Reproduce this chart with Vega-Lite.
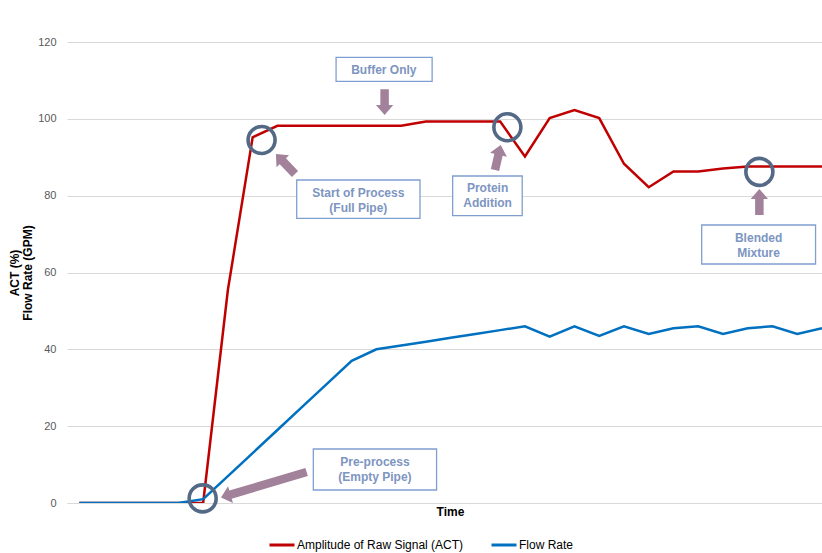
{
  "$schema": "https://vega.github.io/schema/vega-lite/v6.json",
  "width": 755,
  "height": 461,
  "autosize": {"type": "none"},
  "padding": {"left": 67, "top": 42, "right": 0, "bottom": 50},
  "background": "white",
  "config": {"view": {"stroke": null}, "font": "Liberation Sans"},
  "datasets": {
    "series": [
      {"t": 0, "s": "Amplitude of Raw Signal (ACT)", "v": 0},
      {"t": 1, "s": "Amplitude of Raw Signal (ACT)", "v": 0},
      {"t": 2, "s": "Amplitude of Raw Signal (ACT)", "v": 0},
      {"t": 3, "s": "Amplitude of Raw Signal (ACT)", "v": 0},
      {"t": 4, "s": "Amplitude of Raw Signal (ACT)", "v": 0},
      {"t": 5, "s": "Amplitude of Raw Signal (ACT)", "v": 0},
      {"t": 6, "s": "Amplitude of Raw Signal (ACT)", "v": 55.5},
      {"t": 7, "s": "Amplitude of Raw Signal (ACT)", "v": 95.2},
      {"t": 8, "s": "Amplitude of Raw Signal (ACT)", "v": 98.2},
      {"t": 9, "s": "Amplitude of Raw Signal (ACT)", "v": 98.2},
      {"t": 10, "s": "Amplitude of Raw Signal (ACT)", "v": 98.2},
      {"t": 11, "s": "Amplitude of Raw Signal (ACT)", "v": 98.2},
      {"t": 12, "s": "Amplitude of Raw Signal (ACT)", "v": 98.2},
      {"t": 13, "s": "Amplitude of Raw Signal (ACT)", "v": 98.2},
      {"t": 14, "s": "Amplitude of Raw Signal (ACT)", "v": 99.3},
      {"t": 15, "s": "Amplitude of Raw Signal (ACT)", "v": 99.3},
      {"t": 16, "s": "Amplitude of Raw Signal (ACT)", "v": 99.3},
      {"t": 17, "s": "Amplitude of Raw Signal (ACT)", "v": 99.3},
      {"t": 18, "s": "Amplitude of Raw Signal (ACT)", "v": 90.2},
      {"t": 19, "s": "Amplitude of Raw Signal (ACT)", "v": 100.2},
      {"t": 20, "s": "Amplitude of Raw Signal (ACT)", "v": 102.3},
      {"t": 21, "s": "Amplitude of Raw Signal (ACT)", "v": 100.2},
      {"t": 22, "s": "Amplitude of Raw Signal (ACT)", "v": 88.3},
      {"t": 23, "s": "Amplitude of Raw Signal (ACT)", "v": 82.2},
      {"t": 24, "s": "Amplitude of Raw Signal (ACT)", "v": 86.3},
      {"t": 25, "s": "Amplitude of Raw Signal (ACT)", "v": 86.3},
      {"t": 26, "s": "Amplitude of Raw Signal (ACT)", "v": 87.1},
      {"t": 27, "s": "Amplitude of Raw Signal (ACT)", "v": 87.6},
      {"t": 28, "s": "Amplitude of Raw Signal (ACT)", "v": 87.6},
      {"t": 29, "s": "Amplitude of Raw Signal (ACT)", "v": 87.6},
      {"t": 30, "s": "Amplitude of Raw Signal (ACT)", "v": 87.6},
      {"t": 0, "s": "Flow Rate", "v": 0},
      {"t": 1, "s": "Flow Rate", "v": 0},
      {"t": 2, "s": "Flow Rate", "v": 0},
      {"t": 3, "s": "Flow Rate", "v": 0},
      {"t": 4, "s": "Flow Rate", "v": 0},
      {"t": 5, "s": "Flow Rate", "v": 1},
      {"t": 6, "s": "Flow Rate", "v": 7},
      {"t": 7, "s": "Flow Rate", "v": 13},
      {"t": 8, "s": "Flow Rate", "v": 19},
      {"t": 9, "s": "Flow Rate", "v": 25},
      {"t": 10, "s": "Flow Rate", "v": 31},
      {"t": 11, "s": "Flow Rate", "v": 37},
      {"t": 12, "s": "Flow Rate", "v": 40},
      {"t": 13, "s": "Flow Rate", "v": 41},
      {"t": 14, "s": "Flow Rate", "v": 42},
      {"t": 15, "s": "Flow Rate", "v": 43},
      {"t": 16, "s": "Flow Rate", "v": 44},
      {"t": 17, "s": "Flow Rate", "v": 45},
      {"t": 18, "s": "Flow Rate", "v": 46},
      {"t": 19, "s": "Flow Rate", "v": 43.3},
      {"t": 20, "s": "Flow Rate", "v": 46},
      {"t": 21, "s": "Flow Rate", "v": 43.5},
      {"t": 22, "s": "Flow Rate", "v": 46},
      {"t": 23, "s": "Flow Rate", "v": 44},
      {"t": 24, "s": "Flow Rate", "v": 45.5},
      {"t": 25, "s": "Flow Rate", "v": 46},
      {"t": 26, "s": "Flow Rate", "v": 44},
      {"t": 27, "s": "Flow Rate", "v": 45.5},
      {"t": 28, "s": "Flow Rate", "v": 46},
      {"t": 29, "s": "Flow Rate", "v": 44},
      {"t": 30, "s": "Flow Rate", "v": 45.5}
    ],
    "circles": [
      {"name": "pre", "t": 4.98, "v": 1.2},
      {"name": "start", "t": 7.36, "v": 94.5},
      {"name": "protein", "t": 17.29, "v": 97.8},
      {"name": "blend", "t": 27.47, "v": 86.2}
    ],
    "arrows": [
      {"name": "buffer", "t0": 12.33, "v0": 107.7, "t1": 12.33, "v1": 103.35, "tt": 12.33, "vt": 101.0},
      {"name": "start", "t0": 8.71, "v0": 85.64, "t1": 8.19, "v1": 89.15, "tt": 7.94, "vt": 90.85},
      {"name": "protein", "t0": 16.79, "v0": 86.68, "t1": 16.94, "v1": 90.9, "tt": 17.02, "vt": 93.19},
      {"name": "blend", "t0": 27.47, "v0": 74.97, "t1": 27.47, "v1": 79.39, "tt": 27.47, "vt": 81.73},
      {"name": "pre", "t0": 9.18, "v0": 8.07, "t1": 6.07, "v1": 2.1, "tt": 5.72, "vt": 1.43}
    ],
    "boxes": [
      {"label": "Buffer Only", "x1": 10.37, "x2": 14.25, "y1": 116.0, "y2": 109.77, "tx": 12.3, "ty": 112.84},
      {"label": "Start of Process\n(Full Pipe)", "x1": 8.78, "x2": 13.76, "y1": 84.08, "y2": 74.11, "tx": 11.27, "ty": 80.77},
      {"label": "Protein\nAddition", "x1": 15.08, "x2": 17.89, "y1": 85.12, "y2": 74.78, "tx": 16.49, "ty": 81.92},
      {"label": "Blended\nMixture", "x1": 25.14, "x2": 29.74, "y1": 72.36, "y2": 62.21, "tx": 27.44, "ty": 69.06},
      {"label": "Pre-process\n(Empty Pipe)", "x1": 9.45, "x2": 14.43, "y1": 14.06, "y2": 3.38, "tx": 11.94, "ty": 10.75}
    ]
  },
  "layer": [
    {
      "data": {"name": "series"},
      "transform": [{"filter": "datum.s === 'Amplitude of Raw Signal (ACT)'"}],
      "mark": {"type": "line", "strokeWidth": 2.5, "clip": true},
      "encoding": {
        "x": {"field": "t", "type": "quantitative",
          "scale": {"domain": [-0.5, 30], "nice": false, "zero": false},
          "axis": {"title": "Time", "labels": false, "ticks": false, "grid": false, "domain": true, "domainColor": "#d9d9d9",
            "titleFontWeight": "bold", "titleFontSize": 12, "titleColor": "#000000", "titlePadding": 3, "titleX": 383}},
        "y": {"field": "v", "type": "quantitative",
          "scale": {"domain": [0, 120], "nice": false},
          "axis": {"title": ["ACT (%)", "Flow Rate (GPM)"], "values": [0, 20, 40, 60, 80, 100, 120],
            "grid": true, "gridColor": "#d9d9d9", "domain": false, "ticks": false,
            "labelColor": "#595959", "labelFontSize": 11, "labelPadding": 11,
            "titleFontWeight": "bold", "titleFontSize": 12, "titleColor": "#000000", "titlePadding": 3, "titleLineHeight": 13}},
        "color": {"field": "s", "type": "nominal",
          "scale": {"domain": ["Amplitude of Raw Signal (ACT)", "Flow Rate"], "range": ["#c00000", "#0070c0"]},
          "legend": {"title": null, "orient": "none", "legendX": 201, "legendY": 489, "direction": "horizontal",
            "symbolType": "stroke", "symbolSize": 625, "symbolStrokeWidth": 3, "labelFontSize": 12, "labelColor": "#000000",
            "labelLimit": 400, "labelOffset": 1, "columnPadding": 21}}
      }
    },
    {
      "data": {"name": "series"},
      "transform": [{"filter": "datum.s === 'Flow Rate'"}],
      "mark": {"type": "line", "strokeWidth": 2.5, "clip": true},
      "encoding": {
        "x": {"field": "t", "type": "quantitative"},
        "y": {"field": "v", "type": "quantitative"},
        "color": {"field": "s", "type": "nominal"}
      }
    },
    {
      "data": {"name": "circles"},
      "mark": {"type": "point", "shape": "circle", "filled": false, "stroke": "#536985", "strokeWidth": 3.6, "size": 729, "opacity": 1},
      "encoding": {
        "x": {"field": "t", "type": "quantitative"},
        "y": {"field": "v", "type": "quantitative"}
      }
    },
    {
      "data": {"name": "arrows"},
      "mark": {"type": "rule", "color": "#a2819b", "strokeWidth": 8.5, "strokeCap": "butt"},
      "encoding": {
        "x": {"field": "t0", "type": "quantitative"},
        "y": {"field": "v0", "type": "quantitative"},
        "x2": {"field": "t1"},
        "y2": {"field": "v1"}
      }
    },
    {
      "data": {"name": "arrows"},
      "mark": {"type": "point", "shape": "M0,0 L1,1.15 L-1,1.15 Z", "filled": true, "fill": "#a2819b", "strokeWidth": 0, "size": 300, "opacity": 1},
      "encoding": {
        "x": {"field": "tt", "type": "quantitative"},
        "y": {"field": "vt", "type": "quantitative"},
        "angle": {"field": "name", "type": "nominal",
          "scale": {"type": "ordinal", "domain": ["buffer", "start", "protein", "blend", "pre"], "range": [180, -43.5, 12.8, 0, 253.4]},
          "legend": null}
      }
    },
    {
      "data": {"name": "boxes"},
      "mark": {"type": "rect", "fill": "white", "stroke": "#7f9fd0", "strokeWidth": 1.3},
      "encoding": {
        "x": {"field": "x1", "type": "quantitative"},
        "x2": {"field": "x2"},
        "y": {"field": "y1", "type": "quantitative"},
        "y2": {"field": "y2"}
      }
    },
    {
      "data": {"name": "boxes"},
      "mark": {"type": "text", "lineBreak": "\n", "lineHeight": 15, "font": "Liberation Sans", "fontWeight": "bold", "fontSize": 12, "color": "#7d95c1", "align": "center", "baseline": "middle"},
      "encoding": {
        "x": {"field": "tx", "type": "quantitative"},
        "y": {"field": "ty", "type": "quantitative"},
        "text": {"field": "label"}
      }
    }
  ]
}
